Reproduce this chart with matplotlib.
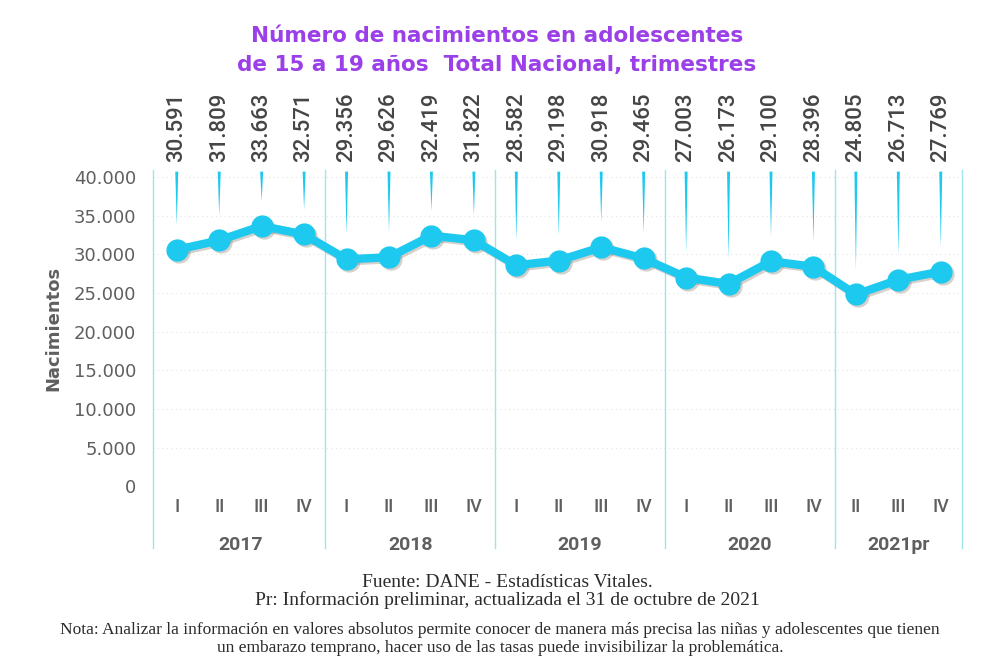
import matplotlib
matplotlib.use("Agg")
import matplotlib.pyplot as plt
import matplotlib.transforms as mtransforms
import numpy as np

# ── datos ──
trimestres = ["I", "II", "III", "IV", "I", "II", "III", "IV", "I", "II", "III", "IV",
              "I", "II", "III", "IV", "II", "III", "IV"]
nacimientos = [30591, 31809, 33663, 32571, 29356, 29626, 32419, 31822, 28582, 29198,
               30918, 29465, 27003, 26173, 29100, 28396, 24805, 26713, 27769]
anios = ["2017", "2018", "2019", "2020", "2021pr"]
trim_por_anio = [4, 4, 4, 4, 3]
yticks = [0, 5000, 10000, 15000, 20000, 25000, 30000, 35000, 40000]

CYAN = "#1DC9EF"
GRIS = "#5f5f5f"
SEP = "#9fe3ef"

def miles(v):
    return f"{v:,}".replace(",", ".")

fig = plt.figure(figsize=(10, 6.67), dpi=100)
ax = fig.add_axes([0.153, 0.271, 0.809, 0.474])

x = np.arange(len(nacimientos))
ax.set_xlim(-0.56, len(nacimientos) - 0.5)
ax.set_ylim(0, 40900)

# rejilla punteada tenue
for t in yticks[1:]:
    ax.axhline(t, color="#e4e4e4", lw=0.8, ls=(0, (1, 3)), zorder=0)

# separadores de años
trans = mtransforms.blended_transform_factory(ax.transData, ax.transAxes)
bordes = [-0.56] + list(np.cumsum(trim_por_anio) - 0.5)
for b in bordes:
    ax.plot([b, b], [-0.196, 1.0], transform=trans, color=SEP, lw=1.0,
            clip_on=False, zorder=1)

# etiquetas y conectores
for xi, v in zip(x, nacimientos):
    ax.text(xi, 1.027, miles(v), transform=trans, rotation=90, ha="center",
            va="bottom", fontsize=16, color="#454545", family="Roboto",
            fontweight="medium")
    fin = v + 3200
    ax.fill([xi - 0.035, xi + 0.035, xi], [40700, 40700, fin], color=CYAN,
            lw=0, zorder=2)

# serie con sombra
sombra_tr = mtransforms.offset_copy(ax.transData, fig=fig, x=2, y=-2, units="dots")
ax.plot(x, nacimientos, color="#8a7a6a", alpha=0.35, lw=6, marker="o", markersize=16,
        markeredgewidth=0, transform=sombra_tr, zorder=2.5)
ax.plot(x, nacimientos, color=CYAN, lw=6, marker="o", markersize=16,
        markerfacecolor=CYAN, markeredgewidth=0, zorder=3)

# eje y
ax.set_yticks(yticks)
ax.set_yticklabels([miles(t) for t in yticks], fontsize=13, color=GRIS)
ax.tick_params(axis="y", length=0, pad=12)
ax.set_xticks([])
for s in ax.spines.values():
    s.set_visible(False)
ax.set_ylabel("Nacimientos", fontsize=13, fontweight="bold", color=GRIS, labelpad=8)

# trimestres y años
for xi, t in zip(x, trimestres):
    ax.text(xi, -0.066, t, transform=trans, ha="center", va="center",
            fontsize=13, color=GRIS, family="Roboto", fontweight="medium")
inicio = 0
for a, n in zip(anios, trim_por_anio):
    centro = inicio - 0.5 + n / 2
    ax.text(centro, -0.187, a, transform=trans, ha="center", va="center",
            fontsize=14, fontweight="bold", color=GRIS, family="Roboto")
    inicio += n

# título
titulo = dict(ha="center", va="center", fontsize=15.5, fontweight="bold",
              color="#9B3FE8", family="DejaVu Sans")
fig.text(0.497, 0.946, "Número de nacimientos en adolescentes", **titulo)
fig.text(0.497, 0.903, "de 15 a 19 años  Total Nacional, trimestres", **titulo)

# pie
pie = dict(ha="center", va="center", color="#2b2b2b", family="Liberation Serif")
fig.text(0.507, 0.126, "Fuente: DANE - Estadísticas Vitales.", fontsize=14, **pie)
fig.text(0.507, 0.100, "Pr: Información preliminar, actualizada el 31 de octubre de 2021",
         fontsize=14, **pie)
fig.text(0.500, 0.056, "Nota: Analizar la información en valores absolutos permite conocer de manera más precisa las niñas y adolescentes que tienen",
         fontsize=12.5, **pie)
fig.text(0.500, 0.029, "un embarazo temprano, hacer uso de las tasas puede invisibilizar la problemática.",
         fontsize=12.5, **pie)

fig.savefig("out.png", dpi=100)
